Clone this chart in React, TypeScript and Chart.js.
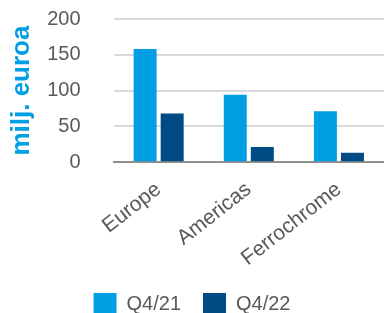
import React, { useEffect, useRef } from "react";
import { Chart, registerables } from "chart.js";

Chart.register(...registerables);

const categories = ["Europe", "Americas", "Ferrochrome"];
const seriesNames = ["Q4/21", "Q4/22"];
const q421 = [158, 94, 71];
const q422 = [68, 21, 13];
const yTitle = "milj. euroa";
const colors = ["#009FE3", "#004B84"];
const FONT = "'Liberation Sans', Arial, sans-serif";

export default function App() {
  const ref = useRef<HTMLCanvasElement | null>(null);
  useEffect(() => {
    if (!ref.current) return;
    const chart = new Chart(ref.current, {
      type: "bar",
      data: {
        labels: categories,
        datasets: [
          { label: seriesNames[0], data: q421, backgroundColor: colors[0], categoryPercentage: 0.6, barPercentage: 0.85 },
          { label: seriesNames[1], data: q422, backgroundColor: colors[1], categoryPercentage: 0.6, barPercentage: 0.85 },
        ],
      },
      options: {
        responsive: false,
        animation: false,
        layout: { padding: { left: 0, right: 0, top: 19, bottom: -13 } },
        plugins: {
          legend: {
            position: "bottom",
            labels: {
              boxWidth: 23,
              boxHeight: 23,
              padding: 22,
              color: "#595959",
              font: { family: FONT, size: 20 },
            },
          },
          tooltip: { enabled: false },
        },
        scales: {
          x: {
            grid: { display: true, drawOnChartArea: false, tickLength: 15, tickColor: "rgba(0,0,0,0)" },
            border: { display: true, color: "#8f8f8f", width: 2 },
            ticks: {
              color: "#595959",
              font: { family: FONT, size: 21 },
              minRotation: 38,
              maxRotation: 38,
              padding: 0,
            },
            afterFit: (scale: any) => {
              scale.paddingLeft = 0;
              scale.paddingRight = 0;
            },
          },
          y: {
            min: 0,
            max: 200,
            border: { display: false },
            grid: { color: "#d9d9d9", lineWidth: 2, drawTicks: true, tickLength: 33, tickColor: "rgba(0,0,0,0)" },
            ticks: {
              stepSize: 50,
              autoSkip: false,
              color: "#595959",
              font: { family: FONT, size: 20 },
              padding: 0,
            },
            title: {
              display: true,
              text: yTitle,
              color: "#009FE3",
              font: { family: FONT, size: 26, weight: "bold" },
              padding: { top: 6, bottom: 10 },
            },
          },
        },
      },
    });
    return () => chart.destroy();
  }, []);
  return (
    <div style={{ position: "absolute", left: 0, top: 0, width: 384, height: 313, background: "#fff" }}>
      <canvas ref={ref} width={384} height={313} />
    </div>
  );
}
